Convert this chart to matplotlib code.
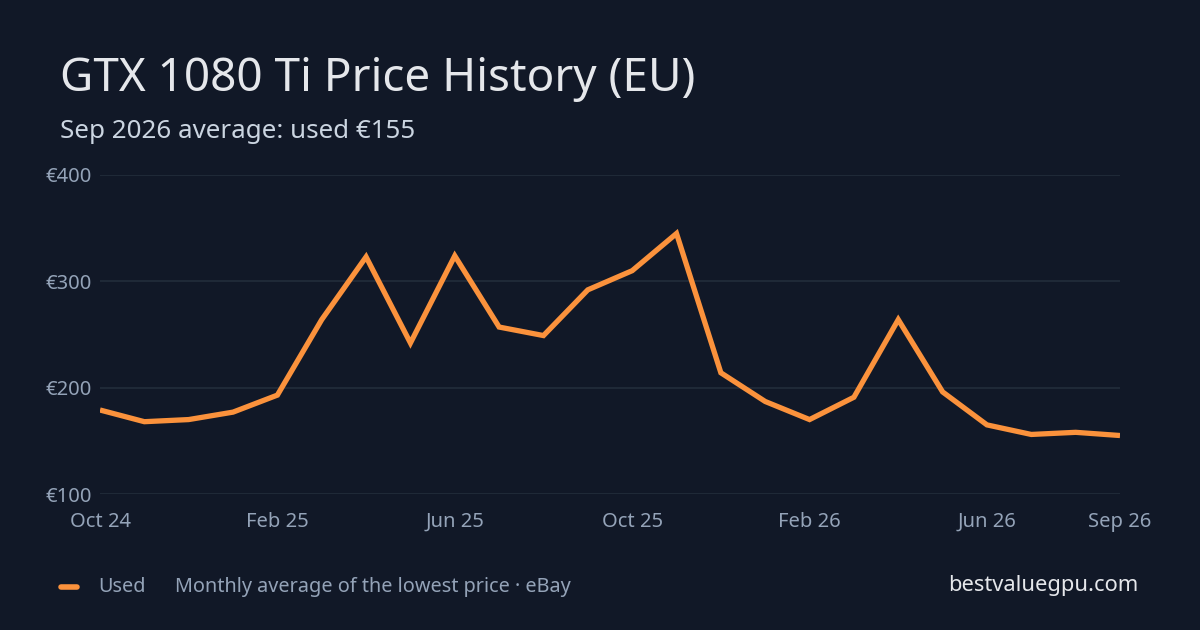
import numpy as np
import matplotlib.pyplot as plt

plt.rcParams['font.family'] = ['Noto Sans', 'DejaVu Sans']

# monthly average used price, Oct 24 .. Sep 26
months = ['Oct 24', 'Nov 24', 'Dec 24', 'Jan 25', 'Feb 25', 'Mar 25', 'Apr 25', 'May 25',
          'Jun 25', 'Jul 25', 'Aug 25', 'Sep 25', 'Oct 25', 'Nov 25', 'Dec 25', 'Jan 26',
          'Feb 26', 'Mar 26', 'Apr 26', 'May 26', 'Jun 26', 'Jul 26', 'Aug 26', 'Sep 26']
used = [179, 168, 170, 177, 193, 264, 323, 242, 324, 257, 249, 292,
        310, 345, 214, 187, 170, 191, 264, 196, 165, 156, 158, 155]
tick_months = ['Oct 24', 'Feb 25', 'Jun 25', 'Oct 25', 'Feb 26', 'Jun 26', 'Sep 26']
y_ticks = [100, 200, 300, 400]

bg = '#111827'
orange = '#fb923c'
muted = '#94a3b8'

fig = plt.figure(figsize=(12, 6.3), dpi=100, facecolor=bg)
ax = fig.add_axes([100/1200, (630-494)/630, 1020/1200, 319/630])
ax.set_facecolor(bg)

x = np.arange(len(months))
ax.plot(x, used, color=orange, lw=3.8, solid_joinstyle='miter', solid_capstyle='butt', zorder=3)

ax.set_xlim(0, len(months) - 1)
ax.set_ylim(100, 400)
ax.set_yticks(y_ticks)
ax.set_yticklabels(['€' + str(v) for v in y_ticks])
ax.set_xticks([months.index(m) for m in tick_months])
ax.set_xticklabels(tick_months)
ax.tick_params(axis='both', length=0, colors=muted, labelsize=14.5)
ax.tick_params(axis='y', pad=6)
ax.tick_params(axis='x', pad=13)
ax.grid(axis='y', color='#1f2937', lw=1.5)
ax.set_axisbelow(True)
for s in ax.spines.values():
    s.set_visible(False)

fig.text(60/1200, 1 - 79/630, 'GTX 1080 Ti Price History (EU)', color='#e5e7eb',
         fontsize=33, va='center', ha='left')
fig.text(60/1200, 1 - 132/630, 'Sep 2026 average: used €155', color='#cbd5e1',
         fontsize=18.7, va='center', ha='left')

# footer legend
fig.add_artist(plt.Line2D([61/1200, 77/1200], [1 - 587/630, 1 - 587/630],
                          color=orange, lw=4, solid_capstyle='round'))
fig.text(98/1200, 1 - 587/630, 'Used', color=muted, fontsize=14.3, va='center', ha='left')
fig.text(175/1200, 1 - 587/630, 'Monthly average of the lowest price · eBay', color=muted,
         fontsize=14.3, va='center', ha='left')
fig.text(1138/1200, 1 - 586/630, 'bestvaluegpu.com', color='#e5e7eb',
         fontsize=15.8, va='center', ha='right')

fig.savefig('out.png', dpi=100, facecolor=bg)
